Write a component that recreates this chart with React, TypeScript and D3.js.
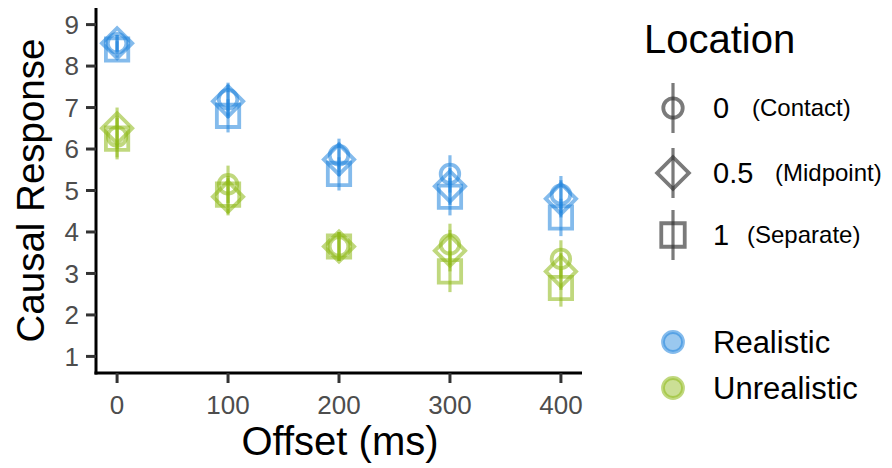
import React from "react";
import * as d3 from "d3";

const offsets = [0, 100, 200, 300, 400];
const locations = ["0", "0.5", "1"];
const locationNotes = ["(Contact)", "(Midpoint)", "(Separate)"];
const conditions = ["Realistic", "Unrealistic"];

// means per location (contact, midpoint, separate)
const realisticMeans = [
  [8.55, 7.2, 5.85, 5.4, 4.9],
  [8.55, 7.15, 5.75, 5.1, 4.8],
  [8.4, 6.8, 5.4, 4.85, 4.35],
];
const unrealisticMeans = [
  [6.3, 5.15, 3.65, 3.7, 3.35],
  [6.5, 4.85, 3.65, 3.55, 3.05],
  [6.25, 4.9, 3.65, 3.05, 2.65],
];
const realisticSE = [
  [0.2, 0.4, 0.4, 0.45, 0.45],
  [0.2, 0.4, 0.4, 0.45, 0.45],
  [0.2, 0.4, 0.4, 0.45, 0.45],
];
const unrealisticSE = [
  [0.5, 0.45, 0.35, 0.5, 0.45],
  [0.5, 0.45, 0.35, 0.5, 0.45],
  [0.5, 0.45, 0.35, 0.5, 0.45],
];
const yTicks = [1, 2, 3, 4, 5, 6, 7, 8, 9];

const colors = ["#1f84dc", "#8cb814"];
const font = "'Liberation Sans', Arial, sans-serif";

const x = d3.scaleLinear().domain([-19, 419]).range([96, 582]);
const y = d3.scaleLinear().domain([0.6, 9.4]).range([373, 8]);

const shapePath = (loc: number, scale = 1) => {
  if (loc === 0) return d3.symbol(d3.symbolCircle, 270 * scale)()!;
  if (loc === 1) return d3.symbol(d3.symbolSquare, 460 * scale)()!;
  return d3.symbol(d3.symbolSquare, 500 * scale)()!;
};
const shapeRotate = (loc: number) => (loc === 1 ? 45 : 0);

export default function App() {
  const series = [
    { means: realisticMeans, se: realisticSE, color: colors[0] },
    { means: unrealisticMeans, se: unrealisticSE, color: colors[1] },
  ];
  return (
    <div style={{ position: "absolute", left: 0, top: 0 }}>
      <svg width={892} height={468} style={{ display: "block", background: "#fff" }} fontFamily={font}>
        {/* points with error bars */}
        {series.map((s, si) =>
          s.means.map((row, li) =>
            row.map((m, i) => (
              <g key={`${si}-${li}-${i}`}>
                <line
                  x1={x(offsets[i])}
                  x2={x(offsets[i])}
                  y1={y(m + s.se[li][i])}
                  y2={y(m - s.se[li][i])}
                  stroke={s.color}
                  strokeOpacity={0.55}
                  strokeWidth={3.2}
                />
                <path
                  d={shapePath(li)}
                  transform={`translate(${x(offsets[i])},${y(m)}) rotate(${shapeRotate(li)})`}
                  fill="none"
                  stroke={s.color}
                  strokeOpacity={0.55}
                  strokeWidth={3.8}
                />
              </g>
            ))
          )
        )}

        {/* axes */}
        <line x1={96} x2={96} y1={y.range()[1]} y2={y.range()[0] + 1.5} stroke="#000" strokeWidth={3} />
        <line x1={94.5} x2={582} y1={373} y2={373} stroke="#000" strokeWidth={3} />
        {yTicks.map((t) => (
          <g key={t}>
            <line x1={86} x2={96} y1={y(t)} y2={y(t)} stroke="#333" strokeWidth={3} />
            <text x={79} y={y(t)} dy="0.36em" textAnchor="end" fontSize={26} fill="#4d4d4d">
              {t}
            </text>
          </g>
        ))}
        {offsets.map((t) => (
          <g key={t}>
            <line x1={x(t)} x2={x(t)} y1={373} y2={383} stroke="#333" strokeWidth={3} />
            <text x={x(t)} y={414} textAnchor="middle" fontSize={26} fill="#4d4d4d">
              {t}
            </text>
          </g>
        ))}
        <text x={340} y={455} textAnchor="middle" fontSize={40} fill="#000">
          Offset (ms)
        </text>
        <text
          transform={`translate(44,${(y(9) + y(1)) / 2}) rotate(-90)`}
          textAnchor="middle"
          fontSize={38.5}
          fill="#000"
        >
          Causal Response
        </text>

        {/* legend: location */}
        <text x={644} y={53} fontSize={40} fill="#000">
          Location
        </text>
        {locations.map((l, li) => {
          const cy = [108, 173, 235][li];
          return (
            <g key={l}>
              <line x1={673} x2={673} y1={cy - 25} y2={cy + 25} stroke="#333" strokeOpacity={0.65} strokeWidth={3.2} />
              <path
                d={shapePath(li, 1.1)}
                transform={`translate(673,${cy}) rotate(${shapeRotate(li)})`}
                fill="none"
                stroke="#333"
                strokeOpacity={0.65}
                strokeWidth={3.8}
              />
              <text x={713} y={cy + 10} fontSize={29} fill="#000">
                {l}
              </text>
              <text x={[752, 775, 747][li]} y={cy + 8} fontSize={24} fill="#000">
                {locationNotes[li]}
              </text>
            </g>
          );
        })}

        {/* legend: condition */}
        {conditions.map((c, ci) => {
          const cy = [342, 388][ci];
          return (
            <g key={c}>
              <circle cx={673} cy={cy} r={10} fill={colors[ci]} fillOpacity={0.45} stroke={colors[ci]} strokeOpacity={0.55} strokeWidth={3.8} />
              <text x={713} y={cy + 11} fontSize={31} fill="#000">
                {c}
              </text>
            </g>
          );
        })}
      </svg>
    </div>
  );
}
